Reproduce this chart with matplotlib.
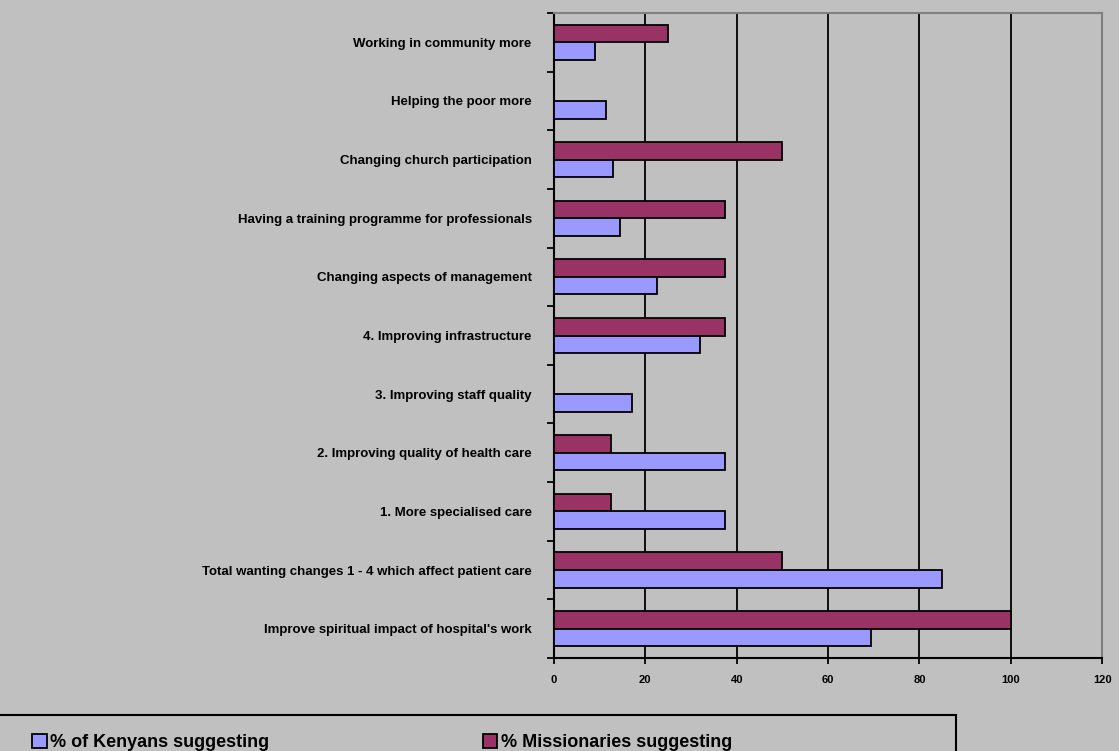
import numpy as np
import matplotlib
matplotlib.use('Agg')
import matplotlib.pyplot as plt
from matplotlib.patches import Rectangle

plt.rcParams['font.family'] = ['Liberation Sans', 'DejaVu Sans']

# data, top to bottom as in the chart
categories = ['Working in community more',
              'Helping the poor more',
              'Changing church participation',
              'Having a training programme for professionals',
              'Changing aspects of management',
              '4. Improving infrastructure',
              '3. Improving staff quality',
              '2. Improving quality of health care',
              '1. More specialised care',
              'Total wanting changes 1 - 4 which affect patient care',
              "Improve spiritual impact of hospital's work"]
kenyans = [9, 11.3, 13, 14.5, 22.5, 32, 17, 37.5, 37.5, 85, 69.5]
missionaries = [25, 0, 50, 37.5, 37.5, 37.5, 0, 12.5, 12.5, 50, 100]
xticks = [0, 20, 40, 60, 80, 100, 120]

bg = '#c0c0c0'
fig = plt.figure(figsize=(11.19, 7.51), dpi=100, facecolor=bg)
ax = fig.add_axes([0.495, 0.1238, 0.49, 0.8589])
ax.set_facecolor(bg)

y = np.arange(len(categories))
h = 0.3
ax.barh(y - h / 2, missionaries, h, color='#993366', edgecolor='black', linewidth=1.3,
        label='% Missionaries suggesting', zorder=3)
ax.barh(y + h / 2, kenyans, h, color='#9999ff', edgecolor='black', linewidth=1.3,
        label='% of Kenyans suggesting', zorder=3)

ax.set_xlim(0, 120)
ax.set_ylim(len(categories) - 0.5, -0.5)

for v in xticks[1:-1]:
    ax.axvline(v, color='black', linewidth=1.3, zorder=1)

ax.set_xticks(xticks)
ax.set_xticklabels([str(v) for v in xticks], fontsize=8, fontweight='bold')
ax.tick_params(axis='x', direction='out', length=4, width=1.3, pad=8)

ax.set_yticks(y)
ax.set_yticklabels(categories, fontsize=9.5, fontweight='bold')
ax.set_yticks(np.arange(len(categories) + 1) - 0.5, minor=True)
ax.tick_params(axis='y', which='major', length=0, pad=16)
ax.tick_params(axis='y', which='minor', direction='out', length=5, width=1.3)

for s in ['left', 'bottom']:
    ax.spines[s].set_color('black')
    ax.spines[s].set_linewidth(1.5)
for s in ['top', 'right']:
    ax.spines[s].set_color('#808080')
    ax.spines[s].set_linewidth(1.5)

# legend box at bottom
fig.patches.append(Rectangle((-0.01, -0.05), 0.864, 0.098, transform=fig.transFigure,
                             facecolor='none', edgecolor='black', linewidth=1.5))
handles, labels = ax.get_legend_handles_labels()
fig.legend([handles[1], handles[0]], [labels[1], labels[0]], ncol=2, frameon=False,
           loc='lower left', bbox_to_anchor=(0.0225, -0.010),
           prop={'weight': 'bold', 'size': 13}, handlelength=0.8, handleheight=0.8,
           handletextpad=0.2, columnspacing=11.8, borderaxespad=0)

fig.savefig('out.png', dpi=100, facecolor=bg)
